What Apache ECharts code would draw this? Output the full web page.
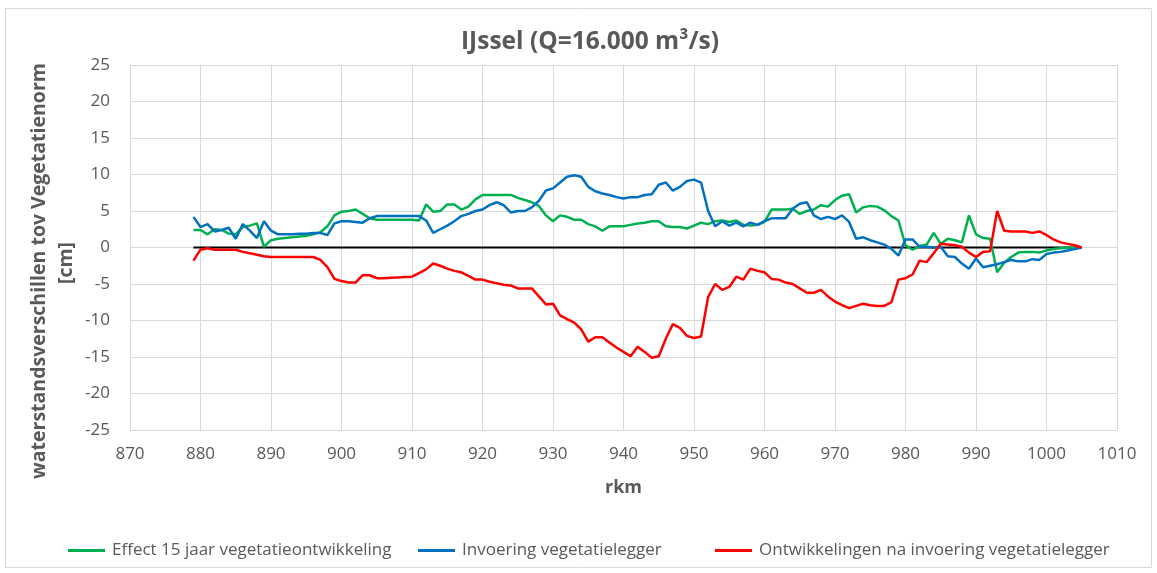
<!DOCTYPE html>
<html>
<head>
<meta charset="utf-8">
<script src="https://cdn.jsdelivr.net/npm/echarts@6/dist/echarts.min.js"></script>
<style>
  html, body { margin: 0; padding: 0; background: #ffffff; }
  #chart { width: 1157px; height: 573px; }
</style>
</head>
<body>
<div id="chart"></div>
<script>
// River kilometre along the IJssel (rkm)
const rkm = [
  879, 880, 881, 882, 883, 884, 885, 886, 887, 888, 889,
  890, 891, 892, 893, 894, 895, 896, 897, 898, 899,
  900, 901, 902, 903, 904, 905, 906, 907, 908, 909,
  910, 911, 912, 913, 914, 915, 916, 917, 918, 919,
  920, 921, 922, 923, 924, 925, 926, 927, 928, 929,
  930, 931, 932, 933, 934, 935, 936, 937, 938, 939,
  940, 941, 942, 943, 944, 945, 946, 947, 948, 949,
  950, 951, 952, 953, 954, 955, 956, 957, 958, 959,
  960, 961, 962, 963, 964, 965, 966, 967, 968, 969,
  970, 971, 972, 973, 974, 975, 976, 977, 978, 979,
  980, 981, 982, 983, 984, 985, 986, 987, 988, 989,
  990, 991, 992, 993, 994, 995, 996, 997, 998, 999,
  1000, 1001, 1002, 1003, 1004, 1005
];

// Water level differences [cm]
const effectVegetatie = [
  2.4, 2.4, 1.8, 2.5, 2.4, 1.9, 1.8, 2.8, 3.0, 3.3, 0.1,
  1.0, 1.2, 1.3, 1.4, 1.5, 1.6, 1.8, 2.1, 2.9, 4.4,
  4.9, 5.0, 5.2, 4.6, 4.0, 3.8, 3.8, 3.8, 3.8, 3.8,
  3.8, 3.7, 5.9, 4.9, 5.0, 5.9, 5.9, 5.2, 5.6, 6.6,
  7.2, 7.2, 7.2, 7.2, 7.2, 6.8, 6.5, 6.2, 5.7, 4.4,
  3.6, 4.4, 4.2, 3.8, 3.8, 3.2, 2.9, 2.3, 2.9, 2.9,
  2.9, 3.1, 3.3, 3.4, 3.6, 3.6, 2.9, 2.8, 2.8, 2.6,
  3.0, 3.4, 3.2, 3.6, 3.7, 3.5, 3.7, 3.1, 3.0, 3.1,
  3.5, 5.2, 5.2, 5.2, 5.3, 4.6, 5.0, 5.2, 5.8, 5.6,
  6.5, 7.1, 7.3, 4.8, 5.5, 5.7, 5.6, 5.1, 4.3, 3.7,
  0.3, -0.3, 0.2, 0.4, 2.0, 0.5, 1.2, 1.0, 0.7, 4.4,
  1.8, 1.3, 1.2, -3.4, -2.1, -1.3, -0.7, -0.6, -0.6, -0.7,
  -0.4, -0.2, -0.1, -0.05, 0.0, 0.0
];

const invoeringLegger = [
  4.2, 2.8, 3.2, 2.2, 2.4, 2.7, 1.2, 3.2, 2.3, 1.3, 3.6,
  2.3, 1.8, 1.8, 1.8, 1.9, 1.9, 2.0, 2.0, 1.7, 3.3,
  3.6, 3.6, 3.5, 3.4, 4.0, 4.3, 4.3, 4.3, 4.3, 4.3,
  4.3, 4.3, 3.7, 2.0, 2.5, 3.0, 3.6, 4.3, 4.6, 5.0,
  5.2, 5.8, 6.2, 5.8, 4.8, 5.0, 5.0, 5.5, 6.4, 7.8,
  8.1, 8.9, 9.7, 9.9, 9.7, 8.3, 7.7, 7.4, 7.2, 6.9,
  6.7, 6.9, 6.9, 7.2, 7.3, 8.6, 8.9, 7.8, 8.3, 9.1,
  9.3, 8.9, 5.0, 2.9, 3.6, 3.0, 3.4, 2.9, 3.4, 3.1,
  3.6, 4.0, 4.0, 4.0, 5.3, 6.0, 6.2, 4.4, 3.9, 4.2,
  3.9, 4.4, 3.5, 1.2, 1.4, 1.0, 0.7, 0.4, -0.2, -1.1,
  1.1, 1.1, 0.1, 0.1, 0.0, 0.1, -1.2, -1.3, -2.2, -2.9,
  -1.5, -2.7, -2.5, -2.3, -2.0, -1.7, -1.9, -1.9, -1.6, -1.7,
  -0.9, -0.7, -0.6, -0.4, -0.2, 0.0
];

const ontwikkelingenNa = [
  -1.8, -0.3, -0.1, -0.3, -0.3, -0.3, -0.3, -0.6, -0.8, -1.0, -1.2,
  -1.3, -1.3, -1.3, -1.3, -1.3, -1.3, -1.3, -1.7, -2.7, -4.3,
  -4.6, -4.8, -4.8, -3.8, -3.8, -4.2, -4.2, -4.15, -4.1, -4.05,
  -4.0, -3.5, -3.0, -2.2, -2.5, -2.9, -3.2, -3.4, -3.9, -4.4,
  -4.4, -4.7, -4.9, -5.1, -5.2, -5.6, -5.6, -5.6, -6.7, -7.8,
  -7.7, -9.3, -9.8, -10.3, -11.2, -12.9, -12.3, -12.3, -13.0, -13.7,
  -14.3, -14.9, -13.6, -14.3, -15.1, -14.9, -12.5, -10.5, -11.0, -12.1,
  -12.4, -12.2, -6.8, -5.0, -5.8, -5.4, -4.0, -4.4, -2.9, -3.2,
  -3.4, -4.3, -4.4, -4.8, -5.0, -5.6, -6.2, -6.2, -5.8, -6.7,
  -7.4, -7.9, -8.3, -8.0, -7.7, -7.9, -8.0, -8.0, -7.5, -4.4,
  -4.2, -3.7, -1.8, -2.0, -0.8, 0.5, 0.4, 0.3, 0.1, -0.7,
  -1.3, -0.6, -0.5, 5.0, 2.3, 2.2, 2.2, 2.2, 2.0, 2.2,
  1.7, 1.1, 0.7, 0.5, 0.3, 0.0
];

// Reference level (no difference)
const nulLijn = 0;

const seriesNames = [
  'Effect 15 jaar vegetatieontwikkeling',
  'Invoering vegetatielegger',
  'Ontwikkelingen na invoering vegetatielegger'
];
const yTicks = { min: -25, max: 25, step: 5 };
const xTicks = { min: 870, max: 1010, step: 10 };

const FONT = "'Open Sans', 'Noto Sans', sans-serif";
const TEXT = '#595959';
const GRID = '#d9d9d9';

const pairs = vals => rkm.map((k, i) => [k, vals[i]]);

const chart = echarts.init(document.getElementById('chart'), null, { renderer: 'canvas' });

const legendItem = (name, left) => ({
  data: [name],
  left: left,
  top: 537,
  icon: 'rect',
  itemWidth: 37,
  itemHeight: 3,
  itemGap: 0,
  textStyle: { fontFamily: FONT, fontSize: 17, color: TEXT, padding: [0, 0, 0, 2] },
  selectedMode: false
});

chart.setOption({
  animation: false,
  backgroundColor: '#ffffff',
  textStyle: { fontFamily: FONT },
  title: {
    text: 'IJssel (Q=16.000 m³/s)',
    left: 456,
    top: 25,
    textStyle: { fontFamily: FONT, fontSize: 24.5, fontWeight: 'bold', color: TEXT }
  },
  legend: [
    legendItem(seriesNames[0], 63),
    legendItem(seriesNames[1], 413),
    legendItem(seriesNames[2], 710)
  ],
  grid: { left: 130, right: 40, top: 65, bottom: 143, containLabel: false },
  xAxis: {
    type: 'value',
    min: xTicks.min,
    max: xTicks.max,
    interval: xTicks.step,
    name: 'rkm',
    nameLocation: 'middle',
    nameGap: 49,
    nameTextStyle: { fontFamily: FONT, fontSize: 18, fontWeight: 'bold', color: TEXT },
    axisLine: { show: false },
    axisTick: { show: false },
    axisLabel: { fontFamily: FONT, fontSize: 17, color: TEXT, margin: 16, formatter: v => String(v) },
    splitLine: { show: true, lineStyle: { color: GRID, width: 1 } }
  },
  yAxis: {
    type: 'value',
    min: yTicks.min,
    max: yTicks.max,
    interval: yTicks.step,
    axisLine: { show: false },
    axisTick: { show: false },
    axisLabel: { fontFamily: FONT, fontSize: 17, color: TEXT, margin: 20 },
    splitLine: { show: true, lineStyle: { color: GRID, width: 1 } }
  },
  graphic: [
    {
      type: 'rect',
      shape: { x: 5.5, y: 8.5, width: 1146, height: 559 },
      style: { fill: 'none', stroke: GRID, lineWidth: 1 },
      silent: true,
      z: -1
    },
    {
      type: 'text',
      x: 39,
      y: 271,
      rotation: Math.PI / 2,
      style: {
        text: 'waterstandsverschillen tov Vegetatienorm',
        fontFamily: FONT, fontSize: 19.5, fontWeight: 'bold', fill: TEXT,
        align: 'center', verticalAlign: 'middle'
      }
    },
    {
      type: 'text',
      x: 66,
      y: 263,
      rotation: Math.PI / 2,
      style: {
        text: '[cm]',
        fontFamily: FONT, fontSize: 19.5, fontWeight: 'bold', fill: TEXT,
        align: 'center', verticalAlign: 'middle'
      }
    }
  ],
  series: [
    {
      name: 'nullijn',
      type: 'line',
      data: rkm.map(k => [k, nulLijn]),
      symbol: 'none',
      lineStyle: { color: '#000000', width: 2 },
      itemStyle: { color: '#000000' },
      silent: true,
      z: 1
    },
    {
      name: seriesNames[0],
      type: 'line',
      data: pairs(effectVegetatie),
      symbol: 'none',
      lineStyle: { color: '#00B050', width: 2.5 },
      itemStyle: { color: '#00B050' },
      z: 2
    },
    {
      name: seriesNames[1],
      type: 'line',
      data: pairs(invoeringLegger),
      symbol: 'none',
      lineStyle: { color: '#0070C0', width: 2.5 },
      itemStyle: { color: '#0070C0' },
      z: 3
    },
    {
      name: seriesNames[2],
      type: 'line',
      data: pairs(ontwikkelingenNa),
      symbol: 'none',
      lineStyle: { color: '#FF0000', width: 2.5 },
      itemStyle: { color: '#FF0000' },
      z: 4
    }
  ]
});
</script>
</body>
</html>
